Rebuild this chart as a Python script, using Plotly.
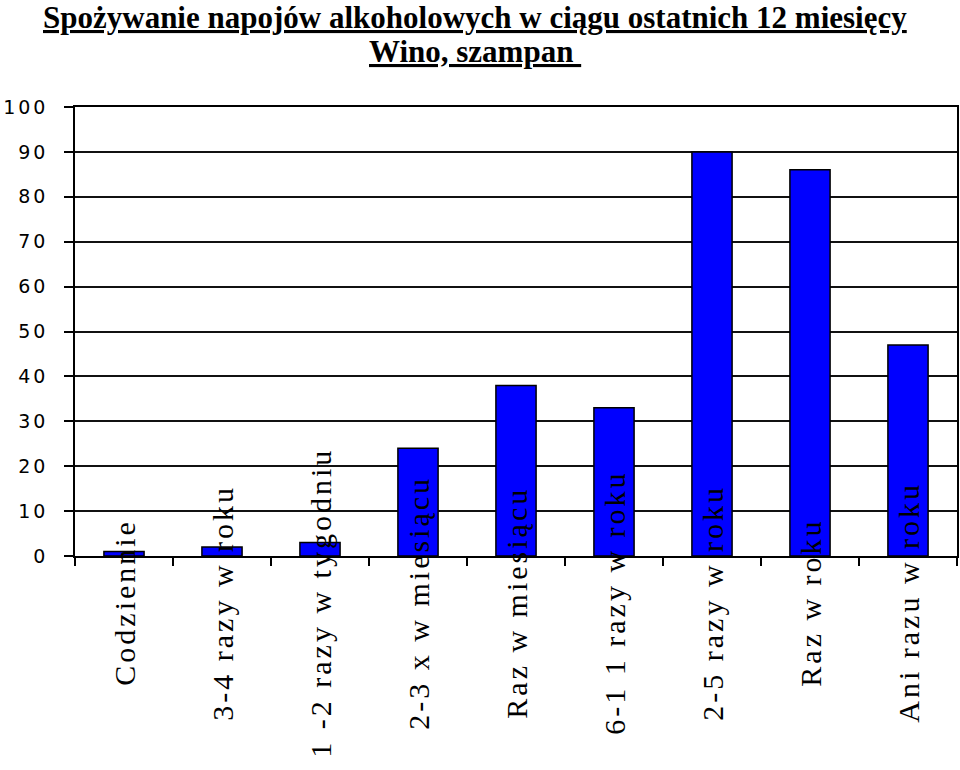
import plotly.graph_objects as go

categories = ["Codziennie", "3-4 razy w roku", "1 -2 razy w tygodniu", "2-3 x w miesiącu",
              "Raz w miesiącu", "6-1 1 razy w roku", "2-5 razy w roku", "Raz w roku", "Ani razu w roku"]
values = [1, 2, 3, 24, 38, 33, 90, 86, 47]
y_ticks = [0, 10, 20, 30, 40, 50, 60, 70, 80, 90, 100]
title_line1 = "Spożywanie napojów alkoholowych w ciągu ostatnich 12 miesięcy"
title_line2 = "Wino, szampan\u00a0"

fig = go.Figure()
fig.add_trace(go.Bar(
    x=categories, y=values,
    marker=dict(color="#0000FF", line=dict(color="#000000", width=1.5)),
    width=0.41,
))

annotations = []
for c in categories:
    annotations.append(dict(
        x=c, y=-0.104, xref="x", yref="paper",
        text='<span style="letter-spacing:3px">' + c + '</span>',
        textangle=-90, showarrow=False, xanchor="center", yanchor="middle",
        xshift=1,
        font=dict(family="Liberation Serif, Times New Roman, serif", size=30, color="#000"),
    ))
annotations.append(dict(
    x=0.454, y=1.2004, xref="paper", yref="paper",
    text="<b><u>" + title_line1 + "</u></b>", showarrow=False,
    xanchor="center", yanchor="middle",
    font=dict(family="Liberation Serif, Times New Roman, serif", size=31, color="#000"),
))
annotations.append(dict(
    x=0.454, y=1.1225, xref="paper", yref="paper",
    text="<b><u>" + title_line2 + "</u></b>", showarrow=False,
    xanchor="center", yanchor="middle",
    font=dict(family="Liberation Serif, Times New Roman, serif", size=31, color="#000"),
))

fig.update_layout(
    width=960, height=770,
    margin=dict(l=75, r=3, t=107, b=214),
    paper_bgcolor="white", plot_bgcolor="white",
    showlegend=False,
    annotations=annotations,
    xaxis=dict(
        type="category", showticklabels=False, tickson="boundaries",
        ticks="outside", ticklen=8, tickwidth=1.5, tickcolor="#000",
        showline=True, linecolor="#000", linewidth=1.5, mirror=True,
        showgrid=False, range=[-0.5, len(categories) - 0.5], automargin=False,
    ),
    yaxis=dict(
        range=[0, 100], tickvals=y_ticks,
        ticktext=['<span style="letter-spacing:3px">' + str(v) + '</span>' for v in y_ticks],
        ticks="outside", ticklen=9, tickwidth=1.5, tickcolor="#000",
        showline=True, linecolor="#000", linewidth=1.5, mirror=True,
        showgrid=True, gridcolor="#111", gridwidth=1.5, zeroline=False,
        ticklabelstandoff=12, automargin=False,
        tickfont=dict(family="DejaVu Sans, Arial, sans-serif", size=19, color="#000"),
    ),
)

fig.write_html("out.html")
